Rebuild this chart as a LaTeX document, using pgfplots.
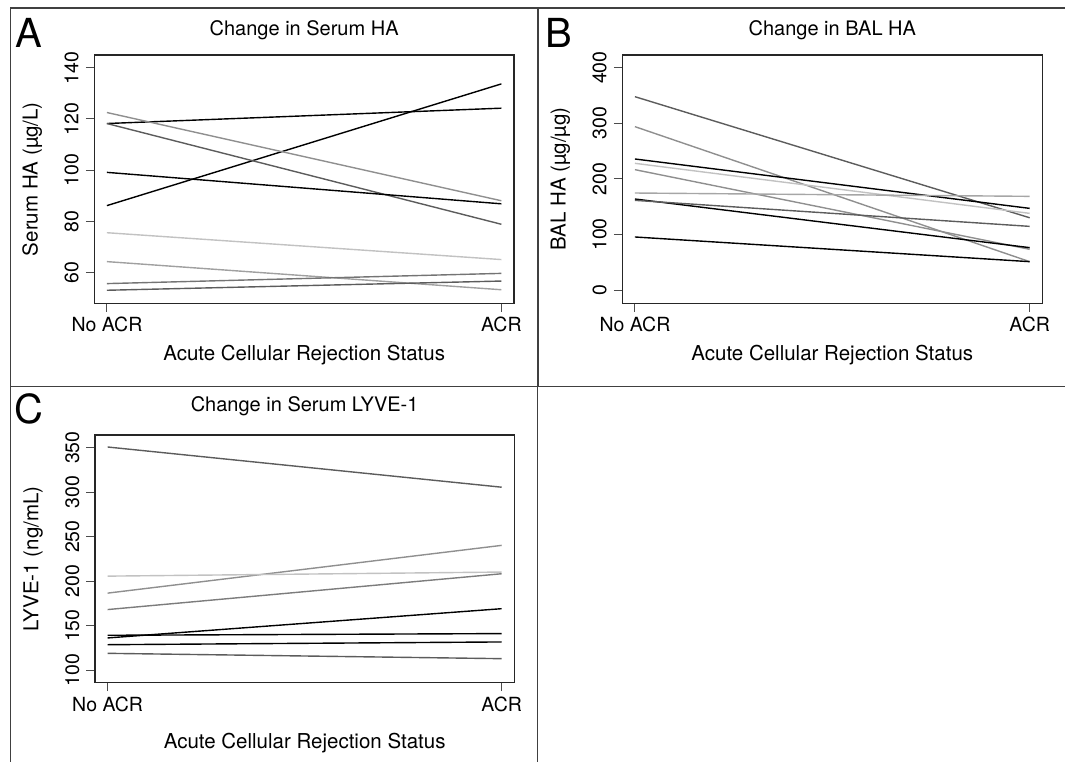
\documentclass[border=0pt]{standalone}
\usepackage{fontspec}
\setmainfont{TeX Gyre Heros}
\usepackage{pgfplots}
\pgfplotsset{compat=1.18}

\definecolor{lgray}{gray}{0.76}
\definecolor{mgray}{gray}{0.56}
\definecolor{dgray}{gray}{0.36}
\definecolor{frame}{gray}{0.25}

\pgfplotsset{
  panel/.style={
    scale only axis,
    xmin=-0.032, xmax=1.032,
    xtick={0,1}, xticklabels={No ACR, ACR},
    tick align=outside, xtick pos=left, ytick pos=left,
    major tick length=8.5pt,
    axis line style={line width=1.3pt, black!85},
    major tick style={line width=1pt, black!70},
    /pgf/number format/assume math mode=true,
    tick label style={font=\fontsize{19.5}{22}\selectfont, inner sep=0pt},
    yticklabel style={rotate=90, anchor=south},
    yticklabel shift=7pt,
    xticklabel style={anchor=base},
    xticklabel shift=20pt,
    label style={font=\fontsize{20.5}{24}\selectfont, inner sep=0pt},
    ylabel style={at={(axis description cs:-0.135,0.5)}, anchor=base},
    xlabel style={anchor=base},
    title style={font=\fontsize{20}{24}\selectfont, at={(axis description cs:0.5,1)}, anchor=base, inner sep=0pt},
    every axis plot/.append style={line width=1.4pt, no markers},
    xlabel={Acute Cellular Rejection Status},
  }
}

\begin{document}
\begin{tikzpicture}
\useasboundingbox (0pt,0pt) rectangle (1065pt,761pt);

% panel frames
\draw[frame, line width=1.3pt] (10.7pt,753pt) rectangle (537.7pt,374.3pt);
\draw[frame, line width=1.3pt] (538.7pt,374.3pt) -- (538.7pt,753pt) -- (1066pt,753pt);
\draw[frame, line width=1.3pt] (538.7pt,374.3pt) -- (1066pt,374.3pt);
\draw[frame, line width=1.3pt] (10.7pt,374.3pt) -- (10.7pt,-2pt);
\draw[frame, line width=1.3pt] (537.7pt,374.3pt) -- (537.7pt,-2pt);

% panel letters
\node[anchor=base west, inner sep=0pt, font=\fontsize{40}{44}\selectfont] at (15.5pt,713.7pt) {A};
\node[anchor=base west, inner sep=0pt, font=\fontsize{40}{44}\selectfont] at (545pt,713.2pt) {B};
\node[anchor=base west, inner sep=0pt, font=\fontsize{40}{44}\selectfont] at (14pt,337pt) {C};

% A: serum HA
\begin{axis}[panel, at={(94.3pt,457.7pt)}, anchor=south west,
  width=419.7pt, height=248.3pt,
  ymin=47.9, ymax=145, ytick={60,80,100,120,140},
  ylabel={Serum HA (µg/L)},
  xlabel style={at={(axis description cs:0.5,-0.2296)}},
  title={Change in Serum HA}, title style={yshift=13.5pt}]
\addplot[black] coordinates {(0,86.1) (1,133.7)};
\addplot[black] coordinates {(0,118.2) (1,124.2)};
\addplot[dgray] coordinates {(0,118.2) (1,78.8)};
\addplot[mgray] coordinates {(0,122.5) (1,88.0)};
\addplot[black] coordinates {(0,99.1) (1,86.8)};
\addplot[lgray] coordinates {(0,75.5) (1,65.0)};
\addplot[mgray!85] coordinates {(0,64.2) (1,53.2)};
\addplot[dgray!85] coordinates {(0,55.6) (1,59.6)};
\addplot[dgray] coordinates {(0,53.0) (1,56.6)};
\end{axis}

% B: BAL HA
\begin{axis}[panel, at={(622.3pt,457.7pt)}, anchor=south west,
  width=420pt, height=248.3pt,
  ymin=-23.9, ymax=422.8, ytick={0,100,200,300,400},
  ylabel={BAL HA (µg/µg)},
  xlabel style={at={(axis description cs:0.5,-0.2296)}},
  title={Change in BAL HA}, title style={yshift=13.5pt}]
\addplot[dgray] coordinates {(0,347.8) (1,130.0)};
\addplot[mgray] coordinates {(0,293.9) (1,51.0)};
\addplot[black] coordinates {(0,235.7) (1,146.9)};
\addplot[lgray] coordinates {(0,227.9) (1,137.9)};
\addplot[mgray] coordinates {(0,216.5) (1,73.2)};
\addplot[gray!70] coordinates {(0,174.5) (1,168.5)};
\addplot[black] coordinates {(0,163.7) (1,76.2)};
\addplot[dgray] coordinates {(0,161.3) (1,114.5)};
\addplot[black] coordinates {(0,95.4) (1,51.0)};
\end{axis}

% C: serum LYVE-1
\begin{axis}[panel, at={(95pt,78.5pt)}, anchor=south west,
  width=419.3pt, height=247.5pt,
  ymin=86, ymax=364.3, ytick={100,150,200,250,300,350},
  ylabel={LYVE-1 (ng/mL)},
  xlabel style={at={(axis description cs:0.5,-0.265)}},
  title={Change in Serum LYVE-1}, title style={yshift=17.5pt}]
\addplot[dgray] coordinates {(0,350.8) (1,305.6)};
\addplot[mgray] coordinates {(0,186.5) (1,240.2)};
\addplot[lgray] coordinates {(0,205.6) (1,210.2)};
\addplot[dgray!80] coordinates {(0,168.0) (1,208.3)};
\addplot[black] coordinates {(0,136.1) (1,169.0)};
\addplot[black] coordinates {(0,139.1) (1,141.0)};
\addplot[black] coordinates {(0,128.5) (1,131.6)};
\addplot[dgray] coordinates {(0,118.8) (1,112.8)};
\end{axis}
\end{tikzpicture}
\end{document}
